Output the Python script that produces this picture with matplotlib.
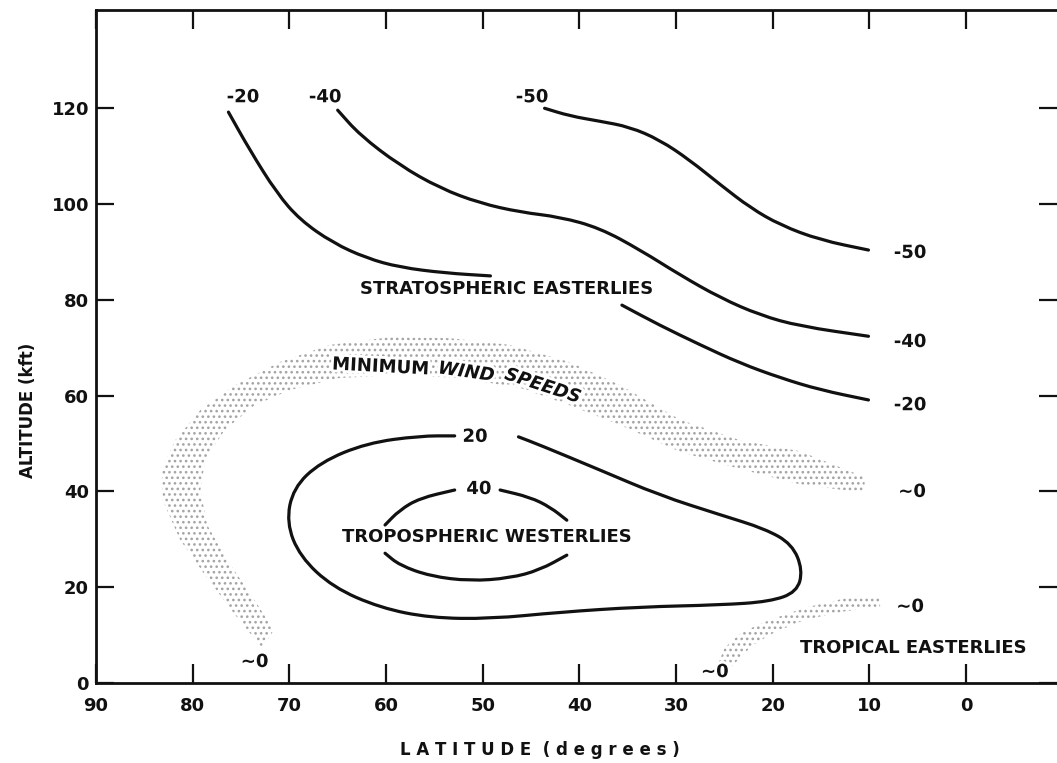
import matplotlib.pyplot as plt
import matplotlib.patheffects as pe
from matplotlib.path import Path
from matplotlib.patches import PathPatch

# contour lines (latitude deg, altitude kft)
m20_upper_lat = [76.3, 74.1, 71.3, 68.9, 65.5, 62.0, 58.6, 53.9, 49.2]
m20_upper_alt = [119.2, 111.3, 102.3, 96.7, 91.9, 88.7, 86.8, 85.6, 85.0]

m20_lower_lat = [35.6, 31.7, 27.5, 23.4, 19.2, 15.1, 10.1]
m20_lower_alt = [78.9, 74.7, 70.6, 66.8, 63.7, 61.2, 59.1]

m40_lat = [65.0, 62.7, 58.6, 54.4, 50.3, 46.1, 42.0, 37.9, 33.7, 29.6, 25.4, 21.3, 17.2, 10.1]
m40_alt = [119.6, 114.4, 108.1, 103.3, 100.2, 98.3, 97.3, 95.0, 90.4, 85.2, 80.4, 76.8, 74.5, 72.4]

m50_lat = [43.6, 41.0, 37.9, 34.8, 31.7, 28.6, 25.4, 22.3, 19.2, 15.1, 10.1]
m50_alt = [120.0, 118.4, 117.3, 116.1, 113.4, 109.2, 104.0, 99.2, 95.6, 92.5, 90.4]

# +20 westerly loop, from the right of its label round to the left of it
p20_lat = [46.3, 44.1, 37.9, 31.7, 25.4, 20.8, 18.0, 16.9, 17.5, 20.3, 25.4, 33.7,
           42.0, 49.2, 55.4, 60.6, 65.5, 68.9, 70.3, 69.6, 66.8, 62.0, 56.5, 52.9]
p20_alt = [51.4, 49.7, 44.5, 39.2, 35.1, 32.2, 29.0, 23.6, 19.0, 17.0, 16.3, 15.9,
           14.8, 13.4, 13.6, 15.7, 20.0, 26.4, 33.5, 40.7, 46.1, 50.1, 51.6, 51.6]

# +40 core, two arcs on top (split by label) and one below
p40_top_lat = [60.1, 58.6, 56.5, 52.9]
p40_top_alt = [33.0, 36.1, 38.6, 40.3]
p40_topr_lat = [48.2, 45.1, 43.0, 41.3]
p40_topr_alt = [40.3, 38.8, 36.7, 34.0]
p40_bot_lat = [60.1, 58.6, 55.4, 51.3, 47.2, 44.1, 41.3]
p40_bot_alt = [27.1, 24.6, 22.3, 21.3, 21.9, 23.6, 26.7]

# stippled bands of minimum wind speed
band_outer_lat = [72.8, 75.6, 78.7, 81.3, 83.1, 83.2, 81.8, 79.2, 75.6, 71.0, 65.8,
                  59.6, 53.4, 47.2, 41.0, 35.8, 29.6, 23.4, 17.2, 10.5]
band_outer_alt = [7.3, 14.2, 22.5, 29.9, 38.2, 44.5, 50.7, 57.0, 62.2, 67.0, 70.6,
                  72.2, 72.0, 70.6, 67.0, 62.2, 55.0, 50.7, 48.4, 43.0]
band_inner_lat = [71.6, 73.6, 76.3, 78.5, 79.2, 78.7, 76.7, 73.6, 69.9, 64.8, 58.6,
                  52.3, 46.1, 41.0, 35.8, 29.6, 23.4, 17.2, 10.5]
band_inner_alt = [11.1, 17.3, 25.3, 33.0, 40.3, 46.6, 52.8, 58.0, 61.2, 63.7, 64.3,
                  63.7, 61.6, 58.0, 53.9, 48.3, 44.7, 41.5, 39.7]

trop_outer_lat = [25.8, 25.0, 23.2, 20.3, 16.7, 12.5, 8.9]
trop_outer_alt = [3.1, 7.3, 10.6, 13.2, 15.7, 17.7, 18.2]
trop_inner_lat = [24.6, 23.6, 22.1, 19.8, 16.7, 12.5, 8.9]
trop_inner_alt = [2.7, 4.8, 7.9, 10.6, 13.2, 15.0, 15.9]

# contour value labels: (text, lat, alt)
value_labels = [("-20", 74.8, 122.3), ("-40", 66.3, 122.3), ("-50", 44.9, 122.3),
                ("-50", 5.8, 89.8), ("-40", 5.8, 71.2), ("-20", 5.8, 58.0),
                ("~0", 5.6, 39.9), ("~0", 5.8, 15.9), ("~0", 73.6, 4.4),
                ("~0", 26.0, 2.3), ("20", 50.8, 51.4), ("40", 50.4, 40.5)]

x_ticks = [90, 80, 70, 60, 50, 40, 30, 20, 10, 0]
y_ticks = [0, 20, 40, 60, 80, 100, 120]

ink = '#111111'


def smooth_line(ax, xs, ys):
    # quadratic bezier through midpoints, read points act as control points
    verts = [(xs[0], ys[0])]
    codes = [Path.MOVETO]
    pts = list(zip(xs, ys))
    verts.append(((pts[0][0] + pts[1][0]) / 2, (pts[0][1] + pts[1][1]) / 2))
    codes.append(Path.LINETO)
    for i in range(1, len(pts) - 1):
        mid = ((pts[i][0] + pts[i + 1][0]) / 2, (pts[i][1] + pts[i + 1][1]) / 2)
        verts += [pts[i], mid]
        codes += [Path.CURVE3, Path.CURVE3]
    verts.append(pts[-1])
    codes.append(Path.LINETO)
    ax.add_patch(PathPatch(Path(verts, codes), facecolor='none', edgecolor=ink,
                           lw=2.3, capstyle='round', joinstyle='round'))


plt.rcParams['font.family'] = 'DejaVu Sans'
plt.rcParams['hatch.linewidth'] = 1.1

fig = plt.figure(figsize=(10.57, 7.63), dpi=100)
ax = fig.add_axes([0.0908, 0.1048, 0.9092, 0.882])
ax.set_xlim(90, -9.4)
ax.set_ylim(0, 140.5)

for xs, ys in [(m20_upper_lat, m20_upper_alt), (m20_lower_lat, m20_lower_alt),
               (m40_lat, m40_alt), (m50_lat, m50_alt), (p20_lat, p20_alt),
               (p40_top_lat, p40_top_alt), (p40_topr_lat, p40_topr_alt),
               (p40_bot_lat, p40_bot_alt)]:
    smooth_line(ax, xs, ys)

# stipple bands
for olat, oalt, ilat, ialt in [(band_outer_lat, band_outer_alt, band_inner_lat, band_inner_alt),
                               (trop_outer_lat, trop_outer_alt, trop_inner_lat, trop_inner_alt)]:
    ax.fill(olat + ilat[::-1], oalt + ialt[::-1],
            facecolor='none', edgecolor='#a4a4a4', lw=0, hatch='...')

white = [pe.withStroke(linewidth=4, foreground='white')]
for txt, lx, ly in value_labels:
    ax.text(lx, ly, txt, fontsize=13, fontweight='bold', color=ink,
            ha='center', va='center', path_effects=white)

region_kw = dict(fontsize=13, fontweight='bold', color=ink, ha='center', va='center')
ax.text(47.5, 82.3, "STRATOSPHERIC EASTERLIES", **region_kw)
ax.text(49.6, 30.5, "TROPOSPHERIC WESTERLIES", **region_kw)
ax.text(5.5, 7.3, "TROPICAL EASTERLIES", **region_kw)
ax.text(60.6, 66.0, "MINIMUM", rotation=-3, path_effects=white, **region_kw)
ax.text(51.7, 64.9, "WIND", rotation=-8, style='italic', path_effects=white, **region_kw)
ax.text(43.8, 62.0, "SPEEDS", rotation=-18, style='italic', path_effects=white, **region_kw)

ax.set_xticks(x_ticks)
ax.set_yticks(y_ticks)
ax.tick_params(axis='both', direction='in', width=1.6, color=ink,
               labelsize=13, labelcolor=ink)
ax.tick_params(axis='x', length=14, pad=10, top=True)
ax.tick_params(axis='y', length=13, pad=5, right=True)
for lab in ax.get_xticklabels() + ax.get_yticklabels():
    lab.set_fontweight('bold')
for side in ['left', 'bottom', 'top']:
    ax.spines[side].set_linewidth(2.0)
    ax.spines[side].set_color(ink)
ax.spines['right'].set_visible(False)

fig.text(540 / 1057, 1 - 750 / 763, "L A T I T U D E  ( d e g r e e s )",
         fontsize=12, fontweight='bold', color=ink, ha='center', va='center')
fig.text(28 / 1057, 1 - 410 / 763, "ALTITUDE (kft)", rotation=90,
         fontsize=12, fontweight='bold', color=ink, ha='center', va='center')

fig.savefig('out.png', dpi=100)
